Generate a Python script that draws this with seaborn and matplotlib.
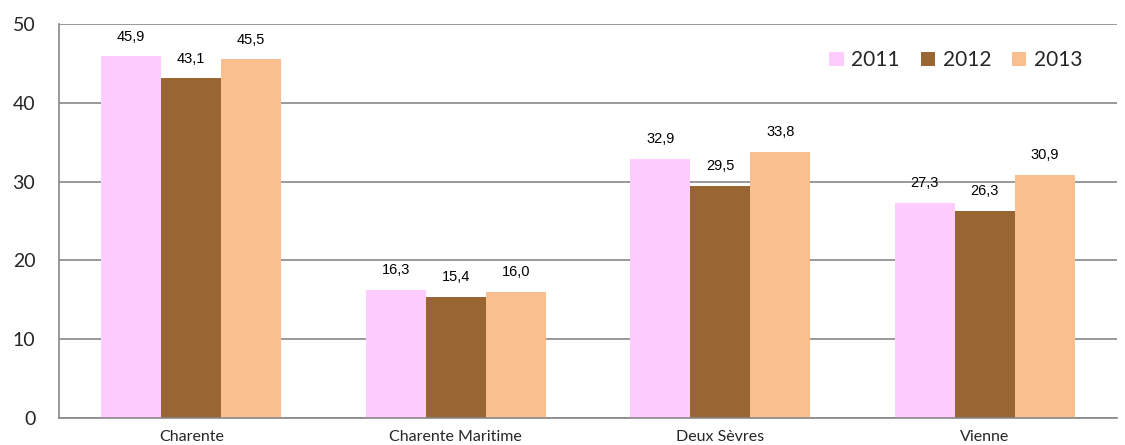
import matplotlib
matplotlib.use("Agg")
import matplotlib.pyplot as plt
import seaborn as sns
import pandas as pd
from matplotlib.ticker import FixedLocator

categories = ["Charente", "Charente Maritime", "Deux Sèvres", "Vienne"]
years = ["2011", "2012", "2013"]
v2011 = [45.9, 16.3, 32.9, 27.3]
v2012 = [43.1, 15.4, 29.5, 26.3]
v2013 = [45.5, 16.0, 33.8, 30.9]
colors = ["#FFCCFF", "#996633", "#F9BF8F"]

rows = []
for y, vals in zip(years, [v2011, v2012, v2013]):
    for c, v in zip(categories, vals):
        rows.append({"cat": c, "year": y, "val": v})
df = pd.DataFrame(rows)

sns.set_theme(style="white")
plt.rcParams['font.family'] = ['Lato', 'DejaVu Sans']

fig = plt.figure(figsize=(11.25, 4.45), dpi=100)
ax = fig.add_axes([0.0524, 0.0607, 0.9405, 0.8853])

sns.barplot(data=df, x="cat", y="val", hue="year", palette=colors,
            width=0.68, gap=0, saturation=1, ax=ax, edgecolor="none",
            linewidth=0, errorbar=None)

for cont in ax.containers:
    ax.bar_label(cont, labels=[f"{b.get_height():.1f}".replace(".", ",") for b in cont],
                 padding=9, fontsize=10.5, family="Liberation Sans", color="#000000")

ax.set_ylim(0, 50)
ax.set_xlim(-0.5, 3.5)
ax.set_yticks([0, 10, 20, 30, 40, 50])
ax.tick_params(axis="y", labelsize=14, length=6, width=1.2, color="#888888", direction="out", pad=11)
ax.yaxis.grid(True, color="#888888", linewidth=1.2)
ax.set_axisbelow(True)
ax.tick_params(axis="x", which="major", length=0, labelsize=11.5, pad=9)
ax.xaxis.set_minor_locator(FixedLocator([-0.5, 0.5, 1.5, 2.5, 3.5]))
ax.tick_params(axis="x", which="minor", length=5, width=1.2, color="#888888", direction="out")
ax.set_xlabel("")
ax.set_ylabel("")
for s in ["top", "right"]:
    ax.spines[s].set_visible(False)
for s in ["left", "bottom"]:
    ax.spines[s].set_color("#888888")
    ax.spines[s].set_linewidth(1.2)

leg = ax.legend(loc="upper right", bbox_to_anchor=(0.975, 0.955), ncol=3, frameon=False,
                fontsize=15, handlelength=0.7, handleheight=0.7, handletextpad=0.35,
                columnspacing=1.0, borderaxespad=0)
fig.savefig("out.png", dpi=100)
